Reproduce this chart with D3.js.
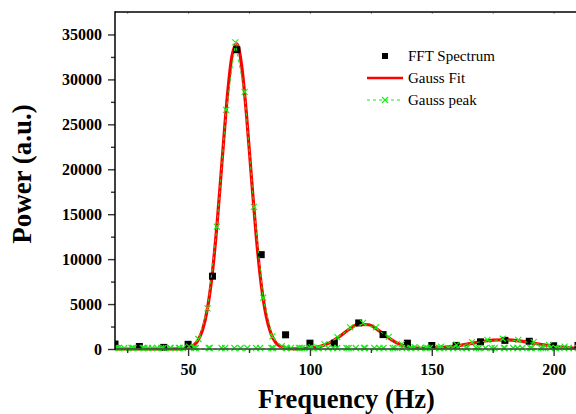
<!DOCTYPE html>
<html>
<head>
<meta charset="utf-8">
<script src="https://cdn.jsdelivr.net/npm/d3@7"></script>
<style>
  html, body { margin: 0; padding: 0; background: #fff; }
  svg { display: block; }
  text { font-family: "Liberation Serif", "Times New Roman", serif; }
</style>
</head>
<body>
<svg id="chart" width="576" height="414"></svg>
<script>
// FFT power spectrum (10 Hz bins)
const fftFreq  = [20, 30, 40, 50, 60, 70, 80, 90, 100, 110, 120, 130, 140, 150, 160, 170, 180, 190, 200, 210];
const fftPower = [550, 280, 180, 520, 8100, 33300, 10500, 1580, 650, 650, 2900, 1600, 650, 390, 400, 800, 960, 860, 360, 400];

// Sum-of-Gaussians fit
const fitFreq  = [20, 30, 40, 46, 50, 52, 54, 56, 58, 60, 62, 64, 66, 68, 70, 72, 74, 76, 78, 80,
                  82, 84, 86, 88, 90, 94, 100, 104, 108, 112, 116, 120, 124, 128, 132, 136, 140, 144,
                  148, 152, 156, 160, 165, 170, 175, 180, 185, 190, 195, 200, 205, 210];
const fitPower = [0, 0, 0, 9, 117, 350, 928, 2190, 4600, 8600, 14300, 21150, 27840, 32600, 33960, 31470, 25950, 19040, 12430, 7210,
                  3730, 1710, 700, 255, 85, 15, 82, 266, 680, 1371, 2180, 2733, 2700, 2104, 1292, 625, 250, 98,
                  75, 116, 210, 346, 567, 802, 977, 1028, 932, 729, 492, 286, 144, 62];

// Individual Gaussian peaks
const peak1Freq  = [20, 23.8, 27.6, 31.4, 35.2, 39, 42.8, 46.6, 50.4, 54.2, 58, 61.8, 65.6, 69.4, 73.2, 77, 80.8, 84.6, 88.4, 92.2,
                    96, 99.8, 103.6, 107.4, 111.2, 115, 118.8, 122.6, 126.4, 130.2, 134, 137.8, 141.6, 145.4, 149.2, 153, 156.8,
                    160.6, 164.4, 168.2, 172, 175.8, 179.6, 183.4, 187.2, 191, 194.8, 198.6, 202.4, 206.2, 210];
const peak1Power = [0, 0, 0, 0, 0, 0, 0, 14, 150, 1000, 4400, 13500, 26500, 34000, 28500, 15700, 5600, 1300, 200, 20,
                    0, 0, 0, 0, 0, 0, 0, 0, 0, 0, 0, 0, 0, 0, 0, 0, 0,
                    0, 0, 0, 0, 0, 0, 0, 0, 0, 0, 0, 0, 0, 0];

const peak2Freq  = [21.48, 26.76, 32.04, 37.32, 42.6, 47.88, 53.16, 58.44, 63.72, 69, 74.28, 79.56, 84.84, 90.12, 95.4, 100.68,
                    105.96, 111.24, 116.52, 121.8, 127.08, 132.36, 137.64, 142.92, 148.2, 153.48, 158.76, 164.04, 169.32,
                    174.6, 179.88, 185.16, 190.44, 195.72, 201, 206.28];
const peak2Power = [0, 0, 0, 0, 0, 0, 0, 0, 0, 0, 0, 0, 0, 0, 16, 102,
                    434, 1222, 2300, 2800, 2300, 1250, 434, 102, 16, 0, 0, 0, 0,
                    0, 0, 0, 0, 0, 0, 0];

const peak3Freq  = [20.9, 27.23, 33.56, 39.89, 46.22, 52.55, 58.88, 65.21, 71.54, 77.87, 84.2, 90.53, 96.86, 103.19, 109.52,
                    115.85, 122.18, 128.51, 134.84, 141.17, 147.5, 153.83, 160.16, 166.49, 172.82, 179.15, 185.48, 191.81,
                    198.14, 204.47];
const peak3Power = [0, 0, 0, 0, 0, 0, 0, 0, 0, 0, 0, 0, 0, 0, 0,
                    0, 0, 0, 3, 14, 53, 153, 352, 650, 913, 1030, 915, 650,
                    356, 156];

// Axis ticks
const xTicks      = [50, 100, 150, 200];
const xMinorTicks = [25, 75, 125, 175];
const xTopTicks   = [25, 50, 75, 100, 125, 150, 175, 200];
const yTicks      = [0, 5000, 10000, 15000, 20000, 25000, 30000, 35000];
const yMinorTicks = [2500, 7500, 12500, 17500, 22500, 27500, 32500];

const legendLabels = ["FFT Spectrum", "Gauss Fit", "Gauss peak"];
const xTitle = "Frequency (Hz)";
const yTitle = "Power (a.u.)";

const RED = "#ff0000", GREEN = "#10f010";

const svg = d3.select("#chart");
const pL = 115, pR = 578, pT = 12, pB = 349;

const x = d3.scaleLinear().domain([20, 210]).range([pL, pR]);
const y = d3.scaleLinear().domain([0, 37500]).range([pB, pT]);

svg.append("defs").append("clipPath").attr("id", "plotClip")
  .append("rect").attr("x", pL).attr("y", pT).attr("width", pR - pL).attr("height", pB - pT + 4);

const plot = svg.append("g").attr("clip-path", "url(#plotClip)");

// Gauss fit curve
const fitLine = d3.line().x(d => x(d[0])).y(d => y(d[1])).curve(d3.curveMonotoneX);
plot.append("path")
  .datum(fitFreq.map((f, i) => [f, fitPower[i]]))
  .attr("d", fitLine)
  .attr("fill", "none").attr("stroke", RED).attr("stroke-width", 3.2).attr("stroke-linejoin", "round");

// FFT spectrum squares
const sq = 7;
plot.selectAll("rect.fft")
  .data(fftFreq.map((f, i) => [f, fftPower[i]]))
  .join("rect").attr("class", "fft")
  .attr("x", d => x(d[0]) - sq / 2).attr("y", d => y(d[1]) - sq / 2)
  .attr("width", sq).attr("height", sq).attr("fill", "#000");

// Gaussian peak components: dashed lines with x markers
const peakLine = d3.line().x(d => x(d[0])).y(d => y(d[1]));
const crossPath = (cx, cy, r) => `M${cx - r},${cy - r}L${cx + r},${cy + r}M${cx - r},${cy + r}L${cx + r},${cy - r}`;
[[peak1Freq, peak1Power], [peak2Freq, peak2Power], [peak3Freq, peak3Power]].forEach(([fs, ps]) => {
  const pts = fs.map((f, i) => [f, ps[i]]);
  plot.append("path").datum(pts).attr("d", peakLine)
    .attr("fill", "none").attr("stroke", GREEN).attr("stroke-width", 1).attr("stroke-dasharray", "3,3");
  plot.append("path")
    .attr("d", pts.map(d => crossPath(x(d[0]), y(d[1]) - 1, 3)).join(""))
    .attr("fill", "none").attr("stroke", GREEN).attr("stroke-width", 1.1);
});

// Axes
function styleAxis(g) {
  g.selectAll(".tick line").attr("stroke", "#333").attr("stroke-width", 1.4);
  g.selectAll("text").attr("font-size", "16px").attr("font-weight", "bold")
    .attr("fill", "#000").attr("font-family", "'Liberation Serif','Times New Roman',serif");
}

const yAxis = svg.append("g").attr("transform", `translate(${pL},0)`)
  .call(d3.axisLeft(y).tickValues(yTicks).tickFormat(d3.format("d")).tickSize(7).tickSizeOuter(0).tickPadding(6));
yAxis.select(".domain").remove();
styleAxis(yAxis);

const yMinor = svg.append("g").attr("transform", `translate(${pL},0)`)
  .call(d3.axisLeft(y).tickValues(yMinorTicks).tickFormat("").tickSize(4).tickSizeOuter(0));
yMinor.select(".domain").remove();
styleAxis(yMinor);

const xAxis = svg.append("g").attr("transform", `translate(0,${pB})`)
  .call(d3.axisBottom(x).tickValues(xTicks).tickFormat(d3.format("d")).tickSize(7).tickSizeOuter(0).tickPadding(8));
xAxis.select(".domain").remove();
styleAxis(xAxis);

const xMinor = svg.append("g").attr("transform", `translate(0,${pB})`)
  .call(d3.axisBottom(x).tickValues(xMinorTicks).tickFormat("").tickSize(4).tickSizeOuter(0));
xMinor.select(".domain").remove();
styleAxis(xMinor);

const xTop = svg.append("g").attr("transform", `translate(0,${pT})`)
  .call(d3.axisBottom(x).tickValues(xTopTicks).tickFormat("").tickSize(2).tickSizeOuter(0));
xTop.select(".domain").remove();
xTop.selectAll(".tick line").attr("stroke", "#999").attr("stroke-width", 1);

// Frame lines
svg.append("line").attr("x1", pL).attr("x2", pR).attr("y1", pB).attr("y2", pB)
  .attr("stroke", "#444").attr("stroke-width", 1.6);
svg.append("line").attr("x1", pL).attr("x2", pR).attr("y1", pT).attr("y2", pT)
  .attr("stroke", "#000").attr("stroke-width", 1.5);
svg.append("line").attr("x1", pL).attr("x2", pL).attr("y1", pT - 0.75).attr("y2", pB + 0.8)
  .attr("stroke", "#000").attr("stroke-width", 1.5);
svg.append("line").attr("x1", pR).attr("x2", pR).attr("y1", pT).attr("y2", pB)
  .attr("stroke", "#000").attr("stroke-width", 1.5);

// Axis titles
svg.append("text").attr("x", (pL + pR) / 2).attr("y", 407.5)
  .attr("text-anchor", "middle").attr("font-size", "26.5px").attr("font-weight", "bold").text(xTitle);
svg.append("text").attr("transform", "translate(31,174) rotate(-90)")
  .attr("text-anchor", "middle").attr("font-size", "27px").attr("font-weight", "bold").text(yTitle);

// Legend
const lg = svg.append("g");
const lx0 = 367, lx1 = 403, lTextX = 408, rows = [56, 78, 100];
lg.append("rect").attr("x", 385 - 3).attr("y", rows[0] - 3).attr("width", 6).attr("height", 6).attr("fill", "#000");
lg.append("line").attr("x1", lx0).attr("x2", lx1).attr("y1", rows[1]).attr("y2", rows[1])
  .attr("stroke", RED).attr("stroke-width", 2.5);
lg.append("line").attr("x1", lx0).attr("x2", lx1).attr("y1", rows[2]).attr("y2", rows[2])
  .attr("stroke", GREEN).attr("stroke-width", 1).attr("stroke-dasharray", "3,3");
lg.append("path").attr("d", crossPath(385, rows[2], 3)).attr("stroke", GREEN).attr("stroke-width", 1.1).attr("fill", "none");
lg.selectAll("text.lab").data(legendLabels).join("text").attr("class", "lab")
  .attr("x", lTextX).attr("y", (d, i) => rows[i] + 5)
  .attr("font-size", "15px").attr("fill", "#000").text(d => d);
</script>
</body>
</html>
